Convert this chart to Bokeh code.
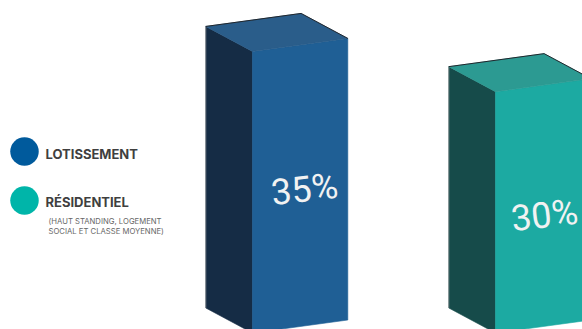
from bokeh.core.properties import value
from bokeh.embed import file_html
from bokeh.models import Range1d
from bokeh.plotting import figure
from bokeh.resources import INLINE

# Chart data
categories = ["LOTISSEMENT", "RÉSIDENTIEL"]
shares = [35, 30]
share_labels = ["35%", "30%"]
legend_note = ["(HAUT STANDING, LOGEMENT", "SOCIAL ET CLASSE MOYENNE)"]

# Colours of each block: front, top and shaded side faces
front_colors = ["#1F5F95", "#1CAAA2"]
top_colors = ["#2A5D8A", "#2C9A92"]
side_colors = ["#152C45", "#164B4A"]
legend_colors = ["#005A9C", "#00B5A9"]

# Block geometry, in pixels
W, H = 582, 329
PX_PER_POINT = 8.045
BASELINE_PX = 332.5
FRONT_LEFT = [252.0, 495.0]
FRONT_W = 95.3
FRONT_RISE = 13.0
DEPTH_X = 46.7
DEPTH_RISE = 25.0


def pct(px_height):
    return px_height / PX_PER_POINT


p = figure(
    width=W, height=H, output_backend="svg", toolbar_location=None,
    x_range=Range1d(0, W),
    y_range=Range1d((BASELINE_PX - H) / PX_PER_POINT, BASELINE_PX / PX_PER_POINT),
    min_border=0, outline_line_color=None, background_fill_color="white",
)
p.axis.visible = False
p.grid.visible = False
p.extra_y_ranges = {"px": Range1d(H, 0)}

for i, share in enumerate(shares):
    x0 = FRONT_LEFT[i]
    x1 = x0 + FRONT_W
    xb = x0 - DEPTH_X
    lift = pct(FRONT_RISE)
    back = pct(DEPTH_RISE)

    # Shaded left side
    p.patch([xb, x0, x0, xb], [back, 0, share, share + back],
            fill_color=side_colors[i], line_color=side_colors[i], line_width=0.6)
    p.line([xb, xb], [back, share + back], line_color="#8A8F94", line_width=0.8)
    # Front face
    p.patch([x0, x1, x1, x0], [0, lift, share + lift, share],
            fill_color=front_colors[i], line_color=front_colors[i], line_width=0.6)
    # Top face
    top_x = [xb, xb + FRONT_W, x1, x0]
    top_y = [share + back, share + back + lift, share + lift, share]
    p.patch(top_x, top_y, fill_color=top_colors[i], line_color=top_colors[i], line_width=0.6)
    # Thin dark edge along the two rear sides of the top
    p.line(top_x[:3], top_y[:3], line_color="#20262C", line_width=1)

# Value labels, tilted with the front faces
label_x = [304, 544]
label_y = [189, 215]
p.text(label_x, label_y, text=share_labels, y_range_name="px",
       text_color="#F1F2F2", text_font=value("Roboto"),
       text_font_size="36px", text_align="center", text_baseline="middle",
       angle=0.115)

# Legend
p.scatter([24, 24], [151, 200], size=28.5, y_range_name="px",
          fill_color=legend_colors, line_color=None)
p.text([45, 45], [153.5, 201.5], text=categories, y_range_name="px",
       text_color="#3F3F3F", text_font=value("Inter"), text_font_style="bold",
       text_font_size="13px", text_align="left", text_baseline="middle")
p.text([48, 48], [220.5, 231], text=legend_note, y_range_name="px",
       text_color="#666666", text_font=value("Inter"),
       text_font_size="7.7px", text_align="left", text_baseline="middle")

open("out.html", "w").write(file_html(p, INLINE))
